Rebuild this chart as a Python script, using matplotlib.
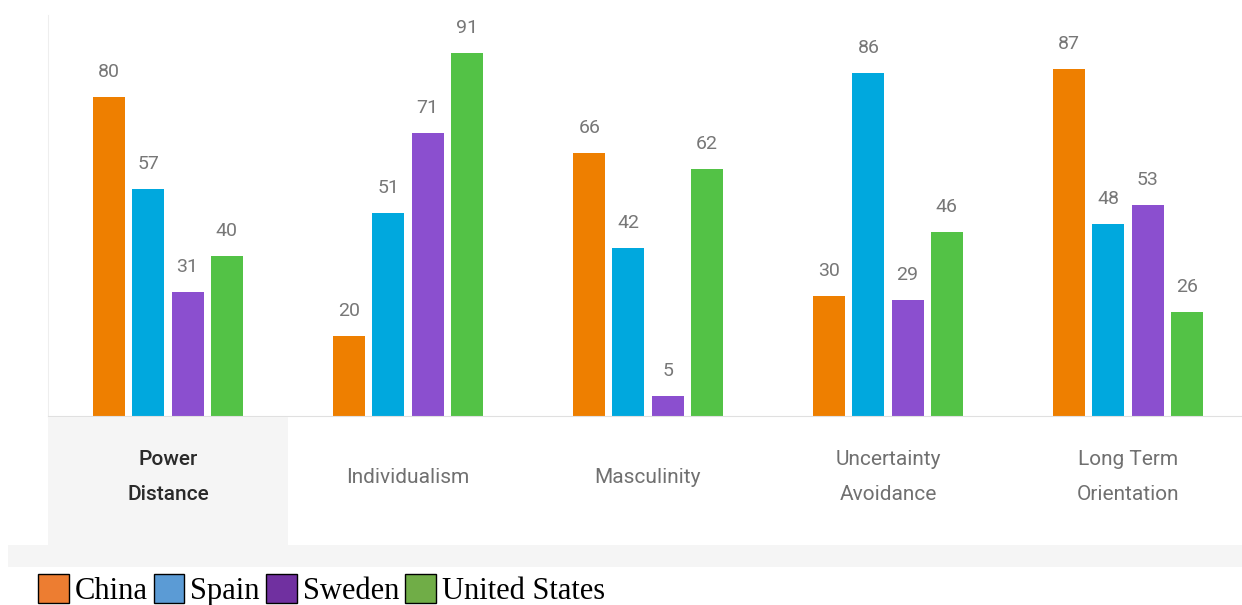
import numpy as np
import matplotlib
matplotlib.use("Agg")
import matplotlib.pyplot as plt
from matplotlib.patches import Rectangle, Patch

# Hofstede dimensions, scores per country
categories = ["Power\nDistance", "Individualism", "Masculinity",
              "Uncertainty\nAvoidance", "Long Term\nOrientation"]
countries = ["China", "Spain", "Sweden", "United States"]
china = [80, 20, 66, 30, 87]
spain = [57, 51, 42, 86, 48]
sweden = [31, 71, 5, 29, 53]
usa = [40, 91, 62, 46, 26]
series = [china, spain, sweden, usa]

bar_colors = ["#EE7F00", "#00A8DE", "#8B4FCF", "#53C246"]
legend_colors = ["#ED7D31", "#5B9BD5", "#7030A0", "#70AD47"]

W, H = 1242, 605
fig = plt.figure(figsize=(W / 100, H / 100), dpi=100)
fig.patch.set_facecolor("white")

def px_box(x0, y0, x1, y1):
    # pixel box (top-left origin) -> figure fraction rect
    return [x0 / W, 1 - y1 / H, (x1 - x0) / W, (y1 - y0) / H]

# gray strip under the label row
fig.add_artist(Rectangle((8 / W, 1 - 567 / H), (W - 8) / W, 22 / H,
                         transform=fig.transFigure, facecolor="#F5F5F5",
                         edgecolor="none", zorder=0))

ax = fig.add_axes(px_box(48, 15, 1248, 416))
x = np.arange(len(categories))
step = 0.163
width = 0.133
for i, (vals, col) in enumerate(zip(series, bar_colors)):
    pos = x + (i - 1.5) * step
    bars = ax.bar(pos, vals, width=width, color=col, zorder=2)
    for b, v in zip(bars, vals):
        ax.annotate(str(v), (b.get_x() + b.get_width() / 2, v),
                    xytext=(0, 18), textcoords="offset points",
                    ha="center", va="center", fontsize=14,
                    color="#777777", family="Roboto")
ax.set_xlim(-0.5, 4.5)
ax.set_ylim(0, 100.5)
ax.set_xticks([])
ax.set_yticks([])
for s in ["top", "right"]:
    ax.spines[s].set_visible(False)
ax.spines["left"].set_color("#EEEEEE")
ax.spines["bottom"].set_color("#E0E0E0")

# label row
lab = fig.add_axes(px_box(48, 417, 1248, 545))
lab.set_xlim(-0.5, 4.5)
lab.set_ylim(0, 1)
lab.axis("off")
lab.add_patch(Rectangle((-0.5, 0), 1, 1, facecolor="#F5F5F5", edgecolor="none"))
for i, c in enumerate(categories):
    first = i == 0
    lab.text(i, 0.53, c, ha="center", va="center", fontsize=15,
             linespacing=2.05, family="Roboto",
             color="#2A2A2A" if first else "#707070",
             fontweight="medium" if first else "normal")

handles = [Patch(facecolor=c, edgecolor="black", linewidth=1) for c in legend_colors]
fig.legend(handles, countries, loc="center left",
           bbox_to_anchor=(38 / W, 1 - 590 / H), ncol=4, frameon=False,
           prop={"family": "Liberation Serif", "size": 22},
           handlelength=1.0, handleheight=1.1, handletextpad=0.2,
           columnspacing=0.2, borderpad=0, borderaxespad=0)

fig.savefig("out.png", dpi=100)
